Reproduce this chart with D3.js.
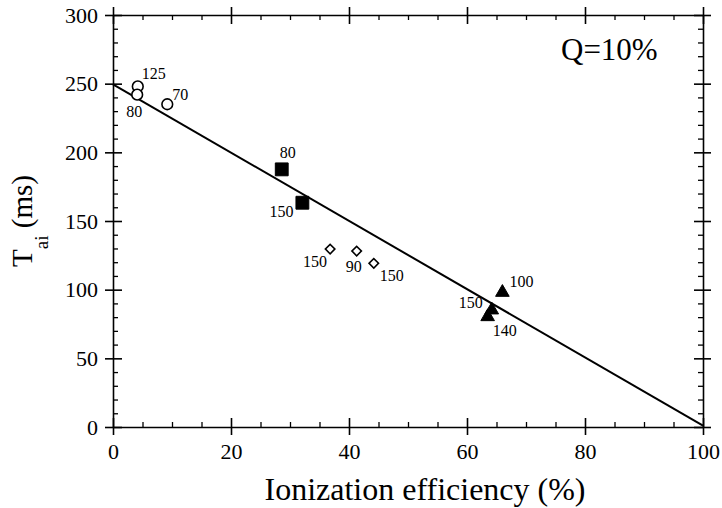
<!DOCTYPE html>
<html>
<head>
<meta charset="utf-8">
<script src="https://cdn.jsdelivr.net/npm/d3@7/dist/d3.min.js"></script>
<style>
  body { margin: 0; background: #fff; }
  svg text { font-family: "Liberation Serif", "Times New Roman", serif; fill: #000; }
</style>
</head>
<body>
<div id="chart"></div>
<script>
// data
const xTicks = [0, 20, 40, 60, 80, 100];
const yTicks = [0, 50, 100, 150, 200, 250, 300];

const circleX = [4.2, 4.1, 9.2];
const circleY = [248, 242, 235];
const circleLabels = ['125', '80', '70'];

const squareX = [28.6, 32.1];
const squareY = [187.6, 163.3];
const squareLabels = ['80', '150'];

const diamondX = [36.8, 41.3, 44.2];
const diamondY = [129.6, 128.1, 119.2];
const diamondLabels = ['150', '90', '150'];

const triangleX = [66.0, 64.2, 63.5];
const triangleY = [98.0, 85.2, 80.3];
const triangleLabels = ['100', '150', '140'];

const fitX = [0, 100];
const fitY = [249.5, 1];

// label placement (pixels relative to marker)
const circleOffsets = [[4, -7, 'start'], [-11, 22, 'start'], [5, -4, 'start']];
const squareOffsets = [[-2, -11, 'start'], [-9, 14, 'end']];
const diamondOffsets = [[-3, 18, 'end'], [-3, 21, 'middle'], [6, 18, 'start']];
const triangleOffsets = [[7, -5, 'start'], [-9, -2, 'end'], [5, 19, 'start']];

const W = 722, H = 508;
const margin = { top: 15, right: 19, bottom: 81, left: 113 };
const width = W - margin.left - margin.right;
const height = H - margin.top - margin.bottom;

const svg = d3.select('#chart').append('svg')
    .attr('width', W)
    .attr('height', H);

const group = svg.append('g')
    .attr('transform', `translate(${margin.left}, ${margin.top})`);

const xScale = d3.scaleLinear().domain([0, 100]).range([0, width]);
const yScale = d3.scaleLinear().domain([0, 300]).range([height, 0]);

const minorX = d3.range(0, 101, 5).filter(v => v % 20 !== 0);
const minorY = d3.range(0, 301, 10).filter(v => v % 50 !== 0);

/**
 * Draws one side of the frame: major ticks crossing the line, minor ticks inside
 */
const drawAxis = (axisFn, scale, majors, minors, transform, showLabels) => {
    const major = group.append('g')
        .attr('transform', transform)
        .call(axisFn(scale).tickValues(majors).tickSize(8).tickSizeOuter(0)
            .tickFormat(showLabels ? d3.format('d') : ''));
    major.select('.domain').attr('stroke', '#000').attr('stroke-width', 1.6);
    major.selectAll('.tick line').attr('stroke', '#000').attr('stroke-width', 1.6);
    // inner part of the major ticks
    const inner = group.append('g')
        .attr('transform', transform)
        .call(axisFn(scale).tickValues(majors).tickSize(-9).tickFormat(''));
    inner.select('.domain').remove();
    inner.selectAll('.tick line').attr('stroke', '#000').attr('stroke-width', 1.6);
    const minor = group.append('g')
        .attr('transform', transform)
        .call(axisFn(scale).tickValues(minors).tickSize(-5).tickFormat(''));
    minor.select('.domain').remove();
    minor.selectAll('.tick line').attr('stroke', '#000').attr('stroke-width', 1.3);
    return major;
};

const xAxis = drawAxis(d3.axisBottom, xScale, xTicks, minorX, `translate(0, ${height})`, true);
xAxis.selectAll('.tick text')
    .attr('font-size', 22)
    .attr('y', 16);

const yAxis = drawAxis(d3.axisLeft, yScale, yTicks, minorY, 'translate(0, 0)', true);
yAxis.selectAll('.tick text')
    .attr('font-size', 22)
    .attr('x', -15);

drawAxis(d3.axisTop, xScale, xTicks, minorX, 'translate(0, 0)', false);
drawAxis(d3.axisRight, yScale, yTicks, minorY, `translate(${width}, 0)`, false);

// fit line
group.append('line')
    .attr('x1', xScale(fitX[0])).attr('y1', yScale(fitY[0]))
    .attr('x2', xScale(fitX[1])).attr('y2', yScale(fitY[1]))
    .attr('stroke', '#000')
    .attr('stroke-width', 2);

const addSeries = (xs, ys, labels, offsets, symbol, size, filled) => {
    const pts = xs.map((x, i) => ({ x, y: ys[i], label: labels[i], off: offsets[i] }));
    group.selectAll(null)
        .data(pts)
        .enter()
        .append('path')
        .attr('d', d3.symbol().type(symbol).size(size))
        .attr('transform', d => `translate(${xScale(d.x)}, ${yScale(d.y)})${symbol === d3.symbolSquare && !filled ? ' rotate(45)' : ''}`)
        .attr('fill', filled ? '#000' : '#fff')
        .attr('stroke', '#000')
        .attr('stroke-width', filled ? 1 : 1.6);
    group.selectAll(null)
        .data(pts)
        .enter()
        .append('text')
        .attr('x', d => xScale(d.x) + d.off[0])
        .attr('y', d => yScale(d.y) + d.off[1])
        .attr('text-anchor', d => d.off[2])
        .attr('font-size', 16)
        .text(d => d.label);
};

addSeries(circleX, circleY, circleLabels, circleOffsets, d3.symbolCircle, 90, false);
addSeries(squareX, squareY, squareLabels, squareOffsets, d3.symbolSquare, 165, true);
addSeries(diamondX, diamondY, diamondLabels, diamondOffsets, d3.symbolSquare, 45, false);
addSeries(triangleX, triangleY, triangleLabels, triangleOffsets, d3.symbolTriangle, 80, true);

// annotation
group.append('text')
    .attr('x', 448)
    .attr('y', 45)
    .attr('font-size', 31)
    .text('Q=10%');

// axis titles
svg.append('text')
    .attr('x', 425)
    .attr('y', 500)
    .attr('text-anchor', 'middle')
    .attr('font-size', 32)
    .text('Ionization efficiency (%)');

const yTitle = svg.append('text')
    .attr('transform', `translate(32, ${margin.top + height / 2}) rotate(-90)`)
    .attr('text-anchor', 'middle')
    .attr('font-size', 29);
yTitle.append('tspan').text('T');
yTitle.append('tspan').attr('font-size', 19).attr('dy', 16).text('ai');
yTitle.append('tspan').attr('dy', -16).text(' (ms)');
</script>
</body>
</html>
